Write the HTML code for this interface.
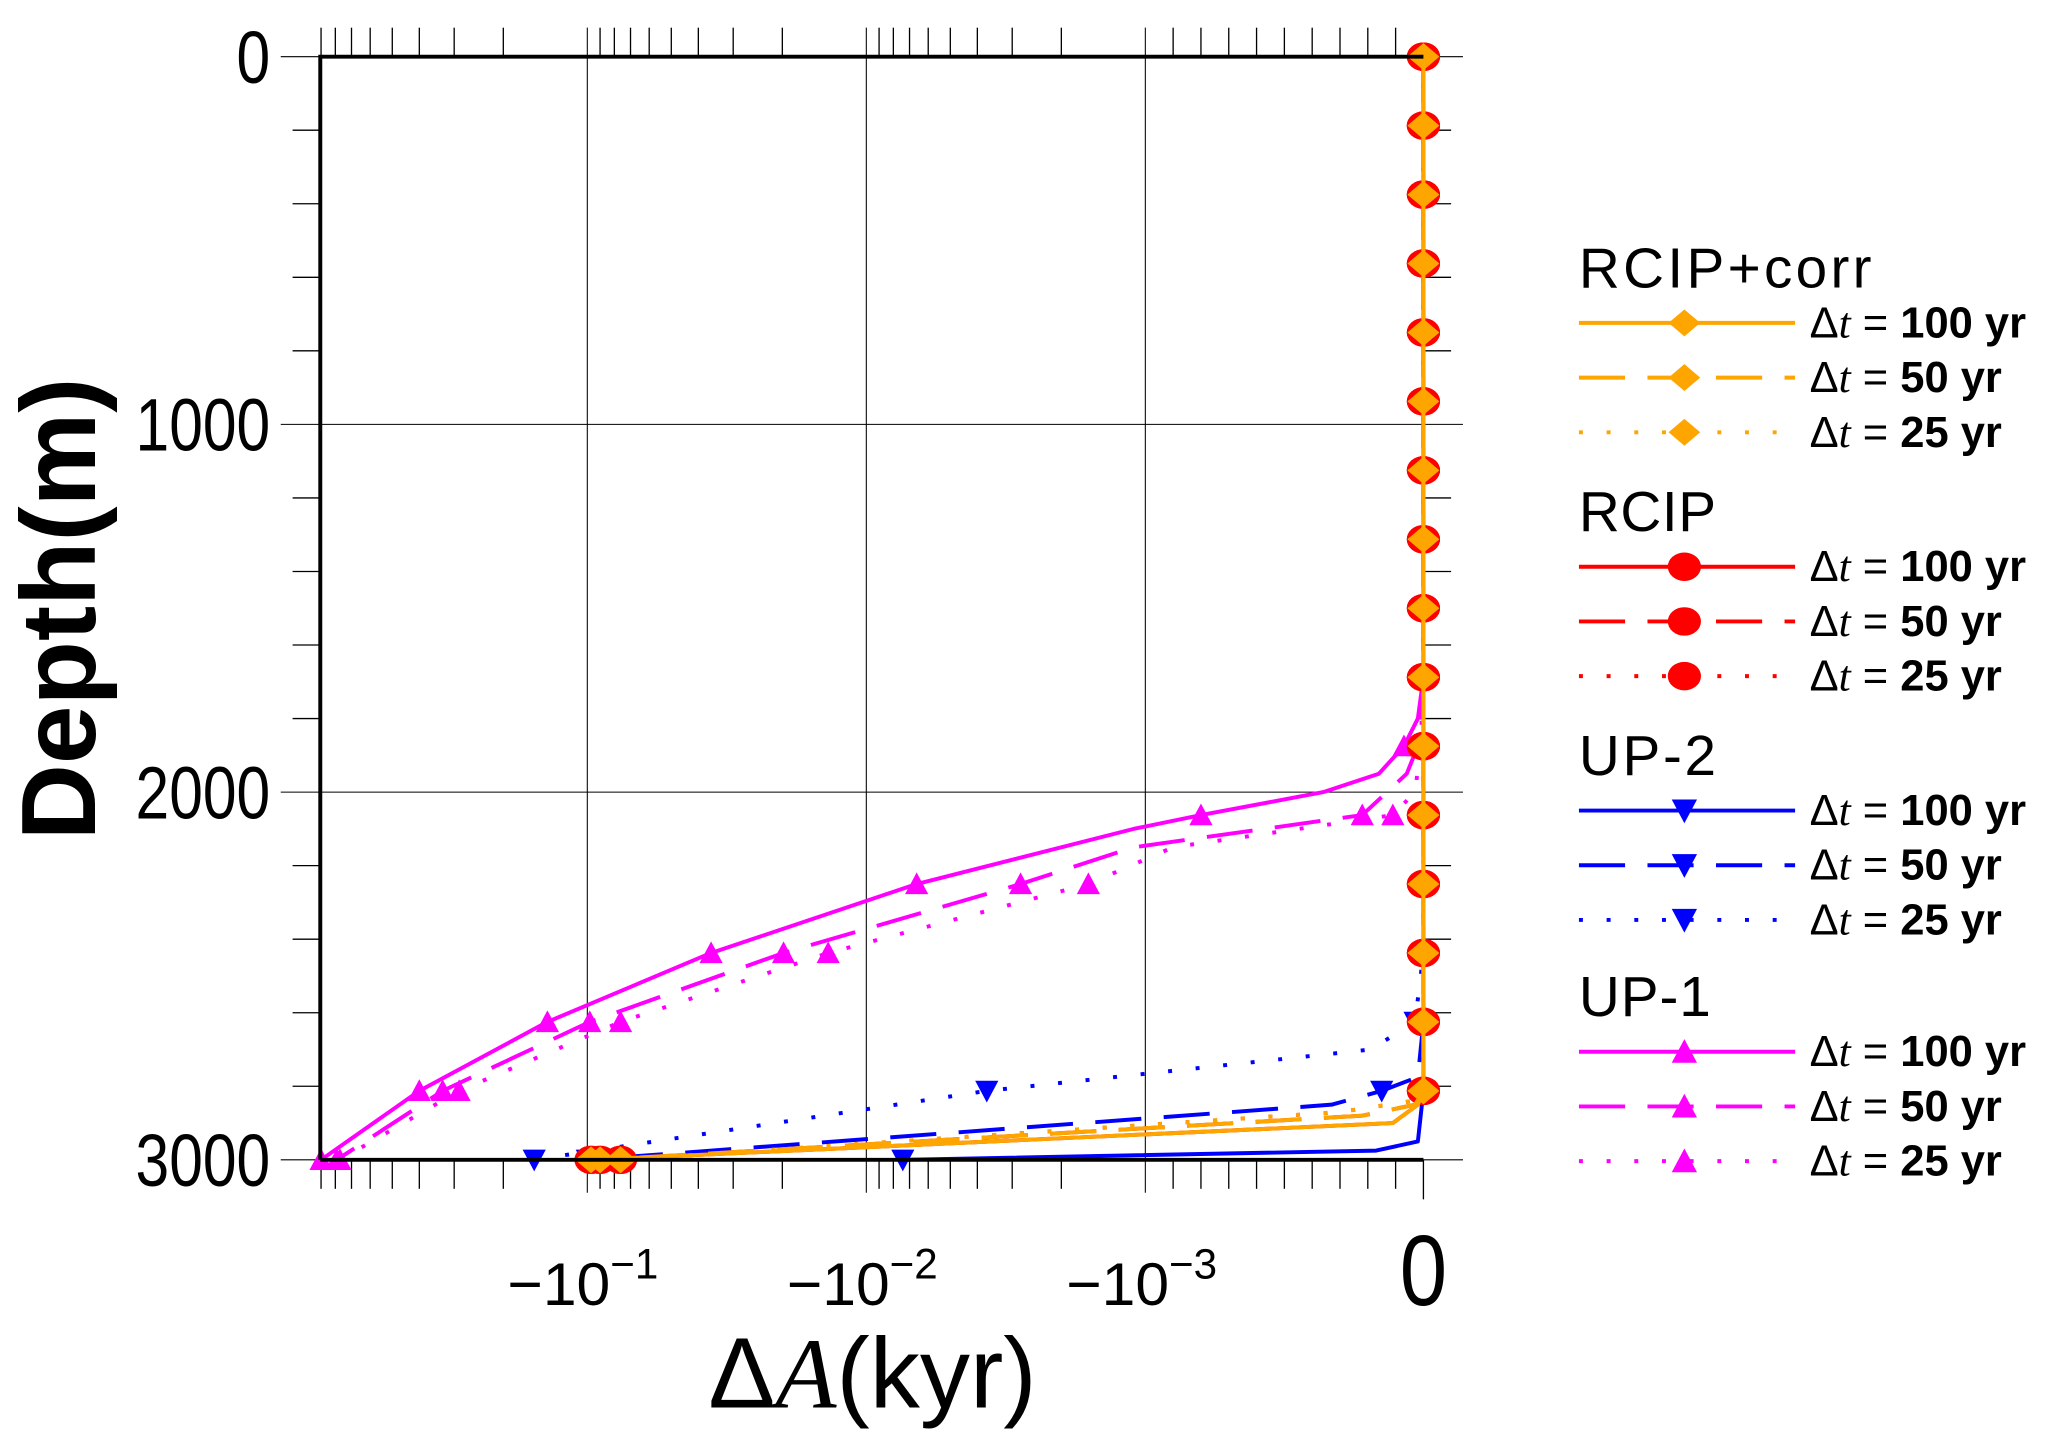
<!DOCTYPE html>
<html><head><meta charset="utf-8"><style>
html,body{margin:0;padding:0;background:#fff;}
svg{display:block;}
text{font-family:"Liberation Sans","DejaVu Sans",sans-serif;fill:#000;}
</style></head><body>
<svg id="chart" width="2067" height="1447" viewBox="0 0 1568.3 1097.9" xmlns="http://www.w3.org/2000/svg">
<rect width="1568.3" height="1097.9" fill="#fff"/>
<g id="grid"></g>
<g id="ticks"></g>
<g id="series"></g>
<g id="frame"></g>
<g id="labels">
  <g font-size="56" text-anchor="end">
    <text x="205" y="63" transform="translate(205 0) scale(0.82 1) translate(-205 0)">0</text>
    <text x="205" y="342" transform="translate(205 0) scale(0.82 1) translate(-205 0)">1000</text>
    <text x="205" y="621" transform="translate(205 0) scale(0.82 1) translate(-205 0)">2000</text>
    <text x="205" y="900" transform="translate(205 0) scale(0.82 1) translate(-205 0)">3000</text>
  </g>
  <g font-size="46">
    <text x="385" y="990">−10<tspan font-size="32" dy="-20">−1</tspan></text>
    <text x="597" y="990">−10<tspan font-size="32" dy="-20">−2</tspan></text>
    <text x="809" y="990">−10<tspan font-size="32" dy="-20">−3</tspan></text>
    <text x="1080" y="990" font-size="76" text-anchor="middle" transform="translate(1080 0) scale(0.85 1) translate(-1080 0)">0</text>
  </g>
  <text font-size="80" font-weight="bold" text-anchor="middle" transform="translate(72 462) rotate(-90)">Depth(m)</text>
  <text font-size="76" x="662" y="1068" text-anchor="middle">Δ<tspan font-family="Liberation Serif, serif" font-style="italic">A</tspan>(kyr)</text>
</g>
<g id="legend"></g>
</svg>
<script>
// ---- data ----
const grid = [0,187.5,375,562.5,750,937.5,1125,1312.5,1500,1687.5,1875,2062.5,2250,2437.5,2625,2812.5,3000];
const up1SolidDepth = [0,187.5,375,562.5,750,937.5,1125,1312.5,1500,1687.5,1800,1875,1950,2000,2062.5,2100,2250,2437.5,2625,2812.5,3000];
const up1SolidVal   = [0,0,0,0,0,0,0,0,0,0,0.00002,0.00007,0.00016,0.00036,0.0008,0.0011,0.0066,0.036,0.139,0.40,0.9];
const up1DashDepth  = [0,187.5,375,562.5,750,937.5,1125,1312.5,1500,1687.5,1875,1950,2062.5,2150,2250,2437.5,2625,2812.5,3000];
const up1DashVal    = [0,0,0,0,0,0,0,0,0,0,0.00002,0.00006,0.00022,0.0011,0.0028,0.0198,0.098,0.33,0.79];
const up1DotDepth   = [0,187.5,375,562.5,750,937.5,1125,1312.5,1500,1687.5,1875,2000,2062.5,2150,2250,2437.5,2625,2812.5,3000];
const up1DotVal     = [0,0,0,0,0,0,0,0,0,0,0.00001,0.00003,0.00011,0.0009,0.0016,0.0137,0.076,0.288,0.77];
const up2SolidDepth = [0,187.5,375,562.5,750,937.5,1125,1312.5,1500,1687.5,1875,2062.5,2250,2437.5,2625,2812.5,2950,2975,3000];
const up2SolidVal   = [0,0,0,0,0,0,0,0,0,0,0,0,0,0,0,0,0.00002,0.00017,0.0074];
const up2DashDepth  = [0,187.5,375,562.5,750,937.5,1125,1312.5,1500,1687.5,1875,2062.5,2250,2437.5,2625,2775,2812.5,2850,3000];
const up2DashVal    = [0,0,0,0,0,0,0,0,0,0,0,0,0,0,0,0.00002,0.00015,0.00033,0.1];
const up2DotDepth   = [0,187.5,375,562.5,750,937.5,1125,1312.5,1500,1687.5,1875,2062.5,2250,2437.5,2625,2700,2812.5,3000];
const up2DotVal     = [0,0,0,0,0,0,0,0,0,0,0,0,0,0,0.00003,0.00019,0.0037,0.155];
const corrSolidDepth = [0,187.5,375,562.5,750,937.5,1125,1312.5,1500,1687.5,1875,2062.5,2250,2437.5,2625,2812.5,2850,2900,3000];
const corrSolidVal   = [0,0,0,0,0,0,0,0,0,0,0,0,0,0,0,0,0.00002,0.00011,0.097];
const corrDashDepth  = [0,187.5,375,562.5,750,937.5,1125,1312.5,1500,1687.5,1875,2062.5,2250,2437.5,2625,2812.5,2850,2880,3000];
const corrDashVal    = [0,0,0,0,0,0,0,0,0,0,0,0,0,0,0,0,0.00003,0.00022,0.09];
const corrDotDepth   = [0,187.5,375,562.5,750,937.5,1125,1312.5,1500,1687.5,1875,2062.5,2250,2437.5,2625,2812.5,2840,2870,3000];
const corrDotVal     = [0,0,0,0,0,0,0,0,0,0,0,0,0,0,0,0,0.00004,0.0003,0.076];
const yTicksMajor = [0,1000,2000,3000];
const xDecades = [-1,-2,-3];
const legendGroups = ["RCIP+corr","RCIP","UP-2","UP-1"];
const legendLabels = ["100","50","25"];

// ---- axes ----
const L=243,R=1080,T=43,B=880,TH=869,DEC=211.7;
function xs(v){const a=Math.abs(v);if(a<1e-3)return R-(R-TH)*a/1e-3;return TH-DEC*Math.log10(a/1e-3);}
function ys(d){return T+(B-T)*d/3000;}
const NS="http://www.w3.org/2000/svg";
function mk(tag,attrs,parent){const e=document.createElementNS(NS,tag);for(const k in attrs)e.setAttribute(k,attrs[k]);parent.appendChild(e);return e;}
const gGrid=document.getElementById('grid'),gTicks=document.getElementById('ticks'),gS=document.getElementById('series'),gF=document.getElementById('frame'),gL=document.getElementById('legend');

xDecades.forEach(k=>{const x=xs(-Math.pow(10,k));
 const l=mk('line',{x1:x,x2:x,y1:T-22,y2:B+25,stroke:'#000','stroke-width':0.8},gGrid);
 
 });
yTicksMajor.forEach(d=>{const y=ys(d);
 const l=mk('line',{x1:L-30,x2:R+30,y1:y,y2:y,stroke:'#000','stroke-width':0.8},gGrid);
 
 });
for(let d=200;d<3000;d+=200){if(d%1000===0)continue;const y=ys(d);
 const l=mk('line',{x1:L-21,x2:L,y1:y,y2:y,stroke:'#000','stroke-width':1},gTicks);
 
 
 const r=mk('line',{x1:R,x2:R+21,y1:y,y2:y,stroke:'#000','stroke-width':1},gTicks);
 
 }
const xm=[];
for(let k=-1;k>=-3;k--)for(let m=2;m<=9;m++)xm.push(xs(-m*Math.pow(10,k)));
for(let i=1;i<10;i++)xm.push(xs(-i*1e-4));
xm.forEach(x=>{if(x<L-1)return;
 const t=mk('line',{x1:x,x2:x,y1:T-22,y2:T,stroke:'#000','stroke-width':1},gTicks);
 
 
 const b=mk('line',{x1:x,x2:x,y1:B,y2:B+22,stroke:'#000','stroke-width':1},gTicks);
 
 });
{const b=mk('line',{x1:R,x2:R,y1:B,y2:B+30,stroke:'#000','stroke-width':1},gTicks);
 
 }

// ---- series ----
const C={o:'#ffa500',r:'#ff0000',b:'#0000ff',m:'#ff00ff'};
const DASH={solid:'',dash:'35,17',dot:'3,18'};
function marker(kind,x,y,color,parent,s){
 let e;
 if(kind==='circle')e=mk('ellipse',{cx:x,cy:y,rx:s*1.05,ry:s*0.9,fill:color},parent);
 else if(kind==='diamond')e=mk('polygon',{points:`${x-s},${y} ${x},${y-s*0.85} ${x+s},${y} ${x},${y+s*0.85}`,fill:color},parent);
 else if(kind==='down')e=mk('polygon',{points:`${x-s*0.8},${y-s*0.7} ${x+s*0.8},${y-s*0.7} ${x},${y+s*0.8}`,fill:color},parent);
 else e=mk('polygon',{points:`${x-s*0.8},${y+s*0.7} ${x+s*0.8},${y+s*0.7} ${x},${y-s*0.8}`,fill:color},parent);
 return e;}
function series(name,depths,vals,color,style,mkind,ms){
 const g=mk('g',{},gS);
 
 
 const pts=depths.map((d,i)=>xs(-vals[i]).toFixed(2)+','+ys(d).toFixed(2)).join(' ');
 const p=mk('polyline',{points:pts,fill:'none',stroke:color,'stroke-width':3,'stroke-dasharray':DASH[style],'stroke-linejoin':'round'},g);
 
 
 depths.forEach((d,i)=>{if(grid.indexOf(d)<0)return;
  const m=marker(mkind,xs(-vals[i]),ys(d),color,g,ms);
  
  });
}
series('up1-dt25',up1DotDepth,up1DotVal,C.m,'dot','up',11);
series('up1-dt50',up1DashDepth,up1DashVal,C.m,'dash','up',11);
series('up1-dt100',up1SolidDepth,up1SolidVal,C.m,'solid','up',11);
series('up2-dt25',up2DotDepth,up2DotVal,C.b,'dot','down',11);
series('up2-dt50',up2DashDepth,up2DashVal,C.b,'dash','down',11);
series('up2-dt100',up2SolidDepth,up2SolidVal,C.b,'solid','down',11);
series('rcip-dt25',corrDotDepth,corrDotVal,C.r,'dot','circle',12);
series('rcip-dt50',corrDashDepth,corrDashVal,C.r,'dash','circle',12);
series('rcip-dt100',corrSolidDepth,corrSolidVal,C.r,'solid','circle',12);
series('rcip-corr-dt25',corrDotDepth,corrDotVal,C.o,'dot','diamond',12);
series('rcip-corr-dt50',corrDashDepth,corrDashVal,C.o,'dash','diamond',12);
series('rcip-corr-dt100',corrSolidDepth,corrSolidVal,C.o,'solid','diamond',12);

{const f=mk('path',{d:`M${L},${B} L${L},${T} L${R},${T} M${L},${B} L${R},${B}`,fill:'none',stroke:'#000','stroke-width':3},gF);
 
 }

// ---- legend ----
const gColors=[C.o,C.r,C.b,C.m],gMk=['diamond','circle','down','up'];
const titleY=[218,403,588,771],styles=['solid','dash','dot'];
legendGroups.forEach((gname,gi)=>{
 const g=mk('g',{},gL);
 
 
 const t=mk('text',{x:1198,y:titleY[gi],'font-size':43,'textLength':gname==='RCIP+corr'?222:(gname==='RCIP'?104:(gname==='UP-2'?104:100))},g);
 t.textContent=gname;
 
 
 legendLabels.forEach((lab,ri)=>{
  const y=titleY[gi]+27+ri*41.5;
  const e=mk('g',{},g);
  
  
  mk('line',{x1:1198,x2:1362,y1:y,y2:y,stroke:gColors[gi],'stroke-width':3,'stroke-dasharray':DASH[styles[ri]]},e);
  marker(gMk[gi],1278,y,gColors[gi],e,12);
  const tx=mk('text',{x:1373,y:y+11,'font-size':33},e);
  tx.innerHTML='Δ<tspan font-family="Liberation Serif, serif" font-style="italic">t</tspan> = <tspan font-weight="bold">'+lab+' yr</tspan>';
 });
});
</script>
</body></html>
